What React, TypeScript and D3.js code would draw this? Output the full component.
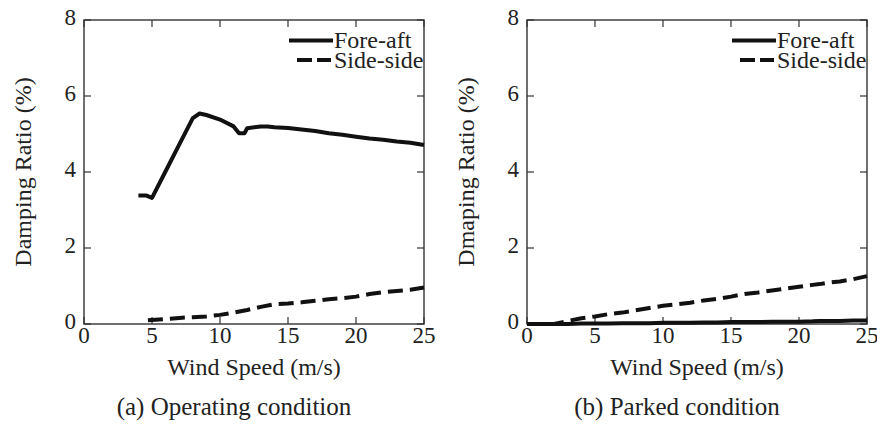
import React from "react";
import * as d3 from "d3";

// ---- Data ----
const opWind = [4, 4.6, 5, 6, 7, 8, 8.5, 9, 10, 11, 11.4, 11.8, 12, 13, 13.5, 14, 15, 16, 17, 18, 19, 20, 21, 22, 23, 24, 25];
const opForeAft = [3.38, 3.38, 3.32, 4.02, 4.72, 5.42, 5.54, 5.5, 5.38, 5.2, 5.02, 5.02, 5.15, 5.2, 5.2, 5.18, 5.16, 5.12, 5.08, 5.02, 4.98, 4.93, 4.88, 4.85, 4.8, 4.77, 4.71];
const opSideWind = [4.7, 6, 7, 8, 9, 10, 11, 12, 13, 14, 15, 16, 17, 18, 19, 20, 21, 22, 23, 24, 25];
const opSideSide = [0.1, 0.13, 0.16, 0.18, 0.2, 0.24, 0.3, 0.37, 0.45, 0.52, 0.54, 0.57, 0.61, 0.65, 0.68, 0.72, 0.79, 0.84, 0.87, 0.9, 0.96];

const pkWind = [0, 1, 2, 3, 4, 5, 6, 7, 8, 9, 10, 11, 12, 13, 14, 15, 16, 17, 18, 19, 20, 21, 21.5, 22, 23, 24, 25];
const pkForeAft = [0, 0, 0, 0, 0.01, 0.01, 0.01, 0.02, 0.02, 0.02, 0.03, 0.03, 0.03, 0.04, 0.04, 0.05, 0.05, 0.05, 0.06, 0.06, 0.06, 0.07, 0.08, 0.08, 0.08, 0.09, 0.09];
const pkSideSide = [0, 0, 0, 0.08, 0.15, 0.2, 0.26, 0.3, 0.36, 0.42, 0.48, 0.52, 0.56, 0.62, 0.66, 0.72, 0.79, 0.83, 0.88, 0.93, 0.98, 1.03, 1.05, 1.08, 1.12, 1.18, 1.26];

const xTicks = [0, 5, 10, 15, 20, 25];
const yTicks = [0, 2, 4, 6, 8];
const seriesNames = ["Fore-aft", "Side-side"];

type Panel = {
  left: number;
  yTitle: string;
  caption: string;
  fa: [number[], number[]];
  ss: [number[], number[]];
};

const panels: Panel[] = [
  { left: 84, yTitle: "Damping Ratio (%)", caption: "(a) Operating condition", fa: [opWind, opForeAft], ss: [opSideWind, opSideSide] },
  { left: 527, yTitle: "Dmaping Ratio (%)", caption: "(b) Parked condition", fa: [pkWind, pkForeAft], ss: [pkWind, pkSideSide] },
];

const W = 340;
const TOP = 20;
const BOTTOM = 324;
const FONT = "Liberation Serif, Times New Roman, Times, serif";
const AX = "#333";

function PanelView({ p }: { p: Panel }) {
  const x = d3.scaleLinear().domain([0, 25]).range([p.left, p.left + W]);
  const y = d3.scaleLinear().domain([0, 8]).range([BOTTOM, TOP]);
  const mk = (xs: number[], ys: number[]) =>
    d3.line<number>().x((_, i) => x(xs[i])).y((v) => y(v))(ys) || "";
  const tl = 7;
  const cx = p.left + W / 2;
  return (
    <g>
      {/* frame */}
      <rect x={p.left} y={TOP} width={W} height={BOTTOM - TOP} fill="none" stroke={AX} strokeWidth={1.4} />
      {xTicks.map((t) => (
        <g key={"x" + t}>
          <line x1={x(t)} x2={x(t)} y1={BOTTOM} y2={BOTTOM - tl} stroke={AX} strokeWidth={1.2} />
          <line x1={x(t)} x2={x(t)} y1={TOP} y2={TOP + tl} stroke={AX} strokeWidth={1.2} />
          <text x={x(t)} y={343} textAnchor="middle" fontSize={23} fontFamily={FONT} fill="#222">{t}</text>
        </g>
      ))}
      {yTicks.map((t) => (
        <g key={"y" + t}>
          <line x1={p.left} x2={p.left + tl} y1={y(t)} y2={y(t)} stroke={AX} strokeWidth={1.2} />
          <line x1={p.left + W} x2={p.left + W - tl} y1={y(t)} y2={y(t)} stroke={AX} strokeWidth={1.2} />
          <text x={p.left - 8} y={y(t) + 5} textAnchor="end" fontSize={23} fontFamily={FONT} fill="#222">{t}</text>
        </g>
      ))}
      {/* data */}
      <path d={mk(p.ss[0], p.ss[1])} fill="none" stroke="#111" strokeWidth={4} strokeDasharray="15 7" />
      <path d={mk(p.fa[0], p.fa[1])} fill="none" stroke="#111" strokeWidth={4} strokeLinejoin="round" />
      {/* legend */}
      <line x1={p.left + W - 135} x2={p.left + W - 91} y1={40.5} y2={40.5} stroke="#111" strokeWidth={4} />
      <line x1={p.left + W - 127} x2={p.left + W - 93} y1={60} y2={60} stroke="#111" strokeWidth={4} strokeDasharray="15 5" />
      <text x={p.left + W - 90} y={48} fontSize={24} fontFamily={FONT} fill="#222">{seriesNames[0]}</text>
      <text x={p.left + W - 90} y={68} fontSize={24} fontFamily={FONT} fill="#222">{seriesNames[1]}</text>
      {/* titles */}
      <text x={cx} y={375} textAnchor="middle" fontSize={24} fontFamily={FONT} fill="#222">Wind Speed (m/s)</text>
      <text transform={`translate(${p.left - 53},${(TOP + BOTTOM) / 2}) rotate(-90)`} textAnchor="middle" fontSize={24} fontFamily={FONT} fill="#222">{p.yTitle}</text>
      <text x={cx - 20} y={415} textAnchor="middle" fontSize={25} fontFamily={FONT} fill="#222">{p.caption}</text>
    </g>
  );
}

export default function App() {
  return (
    <svg width={877} height={427} style={{ position: "absolute", left: 0, top: 0, background: "#fff" }}>
      <rect width={877} height={427} fill="#fff" />
      {panels.map((p, i) => (
        <PanelView key={i} p={p} />
      ))}
    </svg>
  );
}
